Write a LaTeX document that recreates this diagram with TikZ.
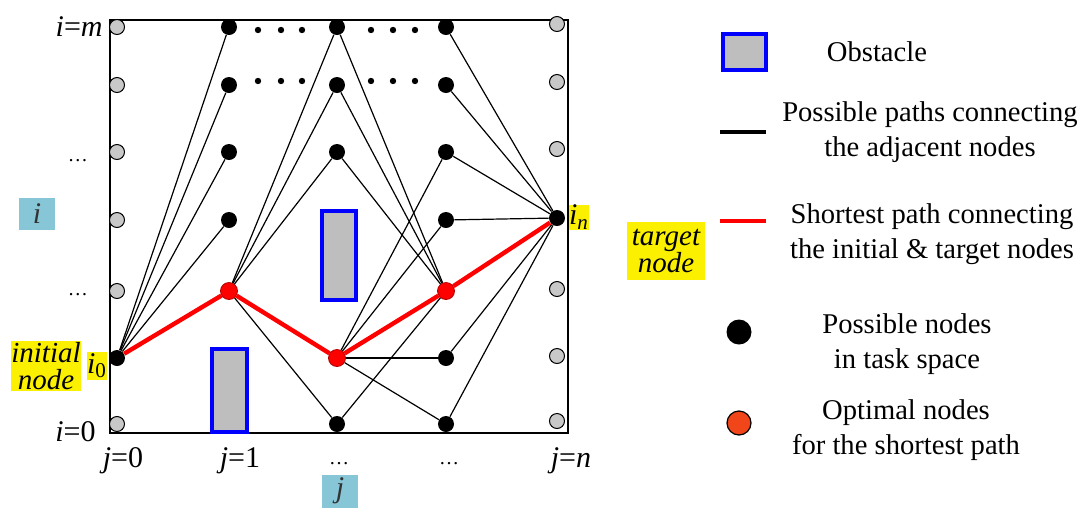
\documentclass[tikz,border=0pt]{standalone}
\usepackage{fontspec}
\setmainfont{Liberation Serif}
\definecolor{obgray}{RGB}{190,190,190}
\definecolor{nodegray}{RGB}{200,200,200}
\definecolor{hlyellow}{RGB}{250,240,0}
\definecolor{hlcyan}{RGB}{135,198,214}
\definecolor{optorange}{RGB}{240,70,25}
\begin{document}
\begin{tikzpicture}[x=0.5pt,y=-0.5pt,
  gnode/.style={circle,draw=black,line width=0.5pt,fill=nodegray,minimum size=7.5pt,inner sep=0pt},
  bnode/.style={circle,fill=black,minimum size=8pt,inner sep=0pt},
  rnode/.style={circle,fill=red,draw=red!70!black,line width=0.4pt,minimum size=8.5pt,inner sep=0pt},
  sdot/.style={circle,fill=black,minimum size=3.2pt,inner sep=0pt},
  edge/.style={line width=0.6pt,black},
  best/.style={line width=2.2pt,red},
  obst/.style={draw=blue,line width=1.6pt,fill=obgray},
  lab/.style={font=\fontsize{15}{17}\selectfont,inner sep=0pt},
  leg/.style={font=\fontsize{14.3}{17.5}\selectfont,align=center,inner sep=0pt},
  hl/.style={fill=hlyellow,inner sep=0pt,font=\fontsize{14.5}{13.5}\selectfont\itshape,align=center},
  cy/.style={fill=hlcyan,inner sep=0pt,font=\fontsize{15}{17}\selectfont\itshape,text=black!80},
  dots/.style={font=\fontsize{10}{12}\selectfont,inner sep=0pt,anchor=base}
]
\useasboundingbox (0,0) rectangle (1084,510);
% frame
\draw[line width=1pt] (110,20) rectangle (568,433);
% obstacles
\draw[obst] (212,349) rectangle (247,432);
\draw[obst] (322,211) rectangle (356,300);
% nodes column j=0
\foreach \n/\y in {1/27,2/85,3/152,4/220,5/291,7/424} \node[gnode] (a\n) at (117,\y) {};
\node[bnode] (a6) at (117,358) {};
% column j=1
\foreach \n/\y in {1/27,2/85,3/152,4/220} \node[bnode] (b\n) at (229,\y) {};
\node[rnode] (b5) at (229,291) {};
% column 2
\foreach \n/\y in {1/27,2/85,3/152,7/424} \node[bnode] (c\n) at (337,\y) {};
\node[rnode] (c6) at (337,358) {};
% column 3
\foreach \n/\y in {1/27,2/85,3/152,4/220,6/358,7/424} \node[bnode] (d\n) at (446,\y) {};
\node[rnode] (d5) at (446,291) {};
% column j=n
\foreach \n/\y in {1/24,2/82,3/149,5/289,6/356,7/421} \node[gnode] (e\n) at (557,\y) {};
\node[bnode] (e4) at (557,218) {};
% ellipsis dots
\foreach \x in {258,281,302,371,393,415} {
  \node[sdot] at (\x,30) {};
  \node[sdot] at (\x,81) {};
}
% edges
\foreach \t in {b1,b2,b3,b4} \draw[edge] (a6) -- (\t);
\foreach \t in {c1,c2,c3,c7} \draw[edge] (b5) -- (\t);
\foreach \s in {c1,c2,c3,c7} \draw[edge] (\s) -- (d5);
\foreach \t in {d3,d4,d6,d7} \draw[edge] (c6) -- (\t);
\foreach \s in {d1,d2,d3,d4,d6,d7} \draw[edge] (\s) -- (e4);
% shortest path
\draw[best] (a6) -- (b5) -- (c6) -- (d5) -- (e4);
% axis labels
\node[lab,anchor=east] (lm) at (103,27) {\textit{i}=\textit{m}};
\node[dots] (ld1) at (78,161) {…};
\node[dots] (ld2) at (78,295) {…};
\node[lab,anchor=east] (l0) at (96,432) {\textit{i}=0};
\node[cy,minimum width=18pt,minimum height=16pt] (ibox) at (37,214) {i};
\node[hl,minimum width=34pt,minimum height=25pt] (init) at (46,366) {initial\\node};
\node[hl,font=\fontsize{15}{17}\selectfont,minimum width=10pt,minimum height=14pt] (izero) at (97,366) {\textit{i}\textsubscript{0}};
\node[hl,font=\fontsize{15}{17}\selectfont,minimum width=10pt,minimum height=12.5pt] (inn) at (579,217) {\textit{i}\textsubscript{\textit{n}}};
\node[hl,minimum width=39pt,minimum height=29pt] (targ) at (666,251) {target\\node};
\node[lab] (j0) at (123,461) {\textit{j}=0};
\node[lab] (j1) at (240,461) {\textit{j}=1};
\node[dots] (jd2) at (339,464) {…};
\node[dots] (jd3) at (449,464) {…};
\node[lab] (jn) at (571,461) {\textit{j}=\textit{n}};
\node[cy,minimum width=18pt,minimum height=16.5pt] (jbox) at (340,491) {j};
% legend
\draw[obst,line width=2pt] (723,34) rectangle (766,70);
\node[leg] (lt1) at (877,52) {Obstacle};
\coordinate (k1) at (720,132); \coordinate (k2) at (766,132);
\draw[line width=2pt] (k1) -- (k2);
\node[leg] (lt2) at (930,132) {Possible paths connecting\\the adjacent nodes};
\coordinate (k3) at (720,221); \coordinate (k4) at (766,221);
\draw[line width=2pt,red] (k3) -- (k4);
\node[leg] (lt3) at (932,234) {Shortest path connecting\\the initial \& target nodes};
\node[circle,fill=black,minimum size=12.5pt,inner sep=0pt] (kb) at (739,332) {};
\node[leg] (lt4) at (907,344) {Possible nodes\\in task space};
\node[circle,fill=optorange,draw=black,line width=0.6pt,minimum size=12pt,inner sep=0pt] (ko) at (739,423) {};
\node[leg] (lt5) at (906,430) {Optimal nodes\\for the shortest path};
\end{tikzpicture}
\end{document}
